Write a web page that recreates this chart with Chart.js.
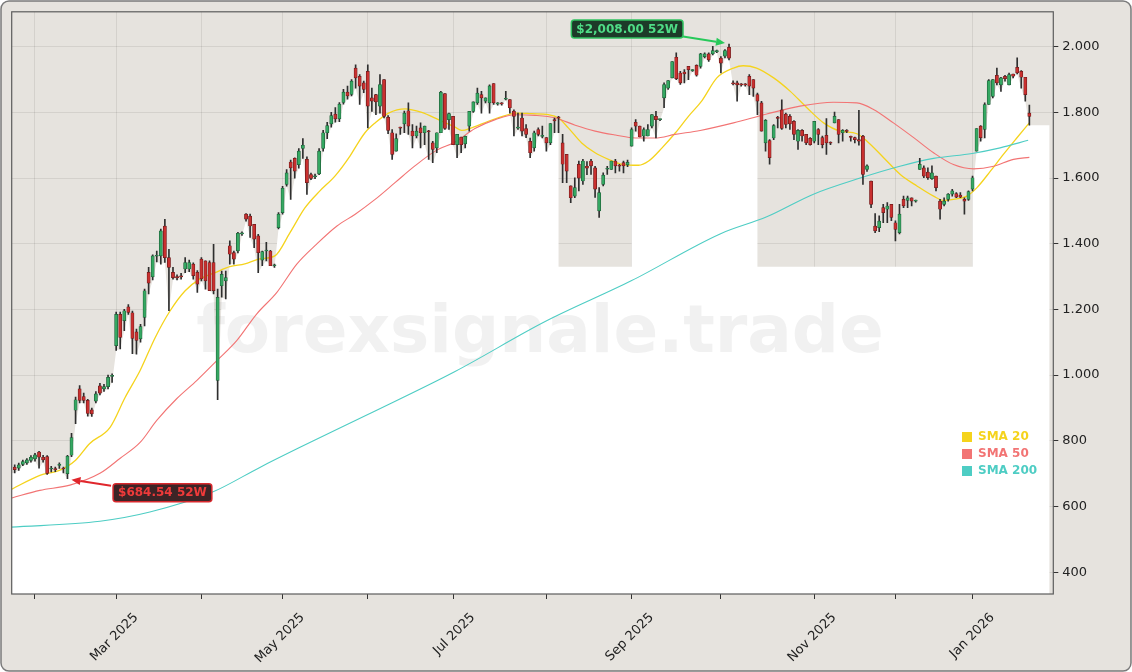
<!DOCTYPE html>
<html>
<head>
<meta charset="utf-8">
<script src="https://cdn.jsdelivr.net/npm/chart.js@4.4.1/dist/chart.umd.min.js"></script>
<style>
  html, body { margin: 0; padding: 0; background: #ffffff; }
  #chart { display: block; }
</style>
</head>
<body>
<canvas id="chart" width="1132" height="672"></canvas>
<script>
// daily candles, one per trading day (index 0 = 27 Jan 2025, 250 = 22 Jan 2026)
const opens = [
  720, 717, 728, 733, 740, 745, 766, 750, 752, 714,
  713, 725, 716, 700, 756, 893, 958, 935, 923, 894,
  921, 967, 958, 965, 996, 1090, 1185, 1166, 1208, 1190,
  1132, 1110, 1176, 1313, 1299, 1362, 1363, 1454, 1358, 1313,
  1298, 1300, 1323, 1323, 1338, 1313, 1353, 1348, 1343, 1343,
  984, 1272, 1287, 1394, 1373, 1378, 1430, 1490, 1484, 1459,
  1424, 1350, 1378, 1378, 1333, 1449, 1495, 1581, 1649, 1660,
  1641, 1690, 1657, 1611, 1604, 1613, 1690, 1738, 1765, 1795,
  1780, 1830, 1862, 1855, 1935, 1910, 1890, 1925, 1844, 1854,
  1819, 1900, 1785, 1738, 1682, 1755, 1765, 1805, 1743, 1728,
  1753, 1738, 1743, 1707, 1692, 1738, 1857, 1778, 1788, 1702,
  1725, 1704, 1758, 1803, 1829, 1854, 1834, 1829, 1888, 1826,
  1827, 1840, 1839, 1804, 1752, 1783, 1751, 1712, 1692, 1748,
  1727, 1723, 1707, 1778, 1786, 1707, 1672, 1576, 1545, 1642,
  1591, 1636, 1652, 1631, 1500, 1581, 1627, 1626, 1652, 1637,
  1647, 1640, 1697, 1770, 1758, 1728, 1728, 1758, 1788, 1778,
  1844, 1874, 1905, 1968, 1920, 1923, 1940, 1927, 1943, 1940,
  1970, 1978, 1978, 1985, 1965, 1971, 1998, 1890, 1890, 1885,
  1885, 1910, 1900, 1854, 1829, 1707, 1714, 1722, 1783, 1808,
  1795, 1788, 1773, 1712, 1745, 1733, 1721, 1712, 1748, 1723,
  1730, 1707, 1768, 1778, 1738, 1743, 1725, 1723, 1717, 1728,
  1626, 1591, 1454, 1449, 1510, 1505, 1520, 1464, 1434, 1535,
  1532, 1540, 1530, 1626, 1631, 1618, 1598, 1606, 1530, 1520,
  1535, 1551, 1553, 1548, 1535, 1535, 1566, 1682, 1758, 1748,
  1824, 1849, 1913, 1884, 1910, 1884, 1917, 1937, 1925, 1907,
  1798
];
const highs = [
  727, 732, 741, 746, 755, 762, 768, 756, 755, 722,
  720, 733, 720, 756, 823, 933, 968, 945, 926, 900,
  950, 975, 972, 1000, 1004, 1192, 1192, 1200, 1215, 1195,
  1140, 1155, 1262, 1328, 1366, 1378, 1445, 1474, 1383, 1328,
  1305, 1310, 1358, 1350, 1342, 1318, 1358, 1348, 1348, 1398,
  1262, 1317, 1317, 1409, 1378, 1435, 1436, 1492, 1490, 1459,
  1429, 1378, 1404, 1380, 1338, 1495, 1575, 1626, 1655, 1662,
  1690, 1720, 1665, 1615, 1612, 1690, 1745, 1770, 1800, 1815,
  1830, 1870, 1880, 1900, 1945, 1915, 1895, 1945, 1874, 1855,
  1915, 1900, 1790, 1748, 1735, 1755, 1804, 1829, 1763, 1758,
  1768, 1758, 1745, 1712, 1738, 1864, 1857, 1798, 1788, 1733,
  1725, 1728, 1803, 1832, 1874, 1864, 1844, 1884, 1888, 1830,
  1830, 1864, 1839, 1808, 1798, 1798, 1763, 1722, 1743, 1753,
  1758, 1723, 1766, 1783, 1788, 1733, 1672, 1576, 1601, 1652,
  1657, 1650, 1657, 1636, 1571, 1616, 1636, 1652, 1657, 1642,
  1652, 1655, 1753, 1778, 1758, 1753, 1763, 1793, 1803, 1780,
  1890, 1897, 1955, 1981, 1925, 1930, 1940, 1930, 1945, 1980,
  1981, 1981, 2001, 1990, 1970, 1991, 2008, 1896, 1895, 1888,
  1888, 1915, 1900, 1859, 1834, 1778, 1717, 1763, 1788, 1838,
  1798, 1793, 1775, 1748, 1748, 1733, 1723, 1773, 1751, 1728,
  1781, 1710, 1801, 1778, 1748, 1748, 1728, 1725, 1806, 1730,
  1640, 1591, 1492, 1485, 1520, 1525, 1520, 1470, 1520, 1545,
  1545, 1540, 1533, 1660, 1637, 1631, 1637, 1606, 1535, 1540,
  1553, 1566, 1556, 1556, 1540, 1561, 1606, 1751, 1760, 1829,
  1900, 1900, 1935, 1907, 1913, 1920, 1917, 1966, 1927, 1907,
  1822
];
const lows = [
  702, 710, 724, 728, 735, 738, 717, 735, 698, 705,
  706, 716, 702, 684.54, 752, 852, 915, 915, 875, 874,
  915, 940, 950, 958, 978, 1075, 1080, 1135, 1185, 1065,
  1064, 1100, 1150, 1247, 1290, 1345, 1338, 1343, 1196, 1292,
  1290, 1292, 1312, 1315, 1292, 1252, 1287, 1262, 1257, 1247,
  925, 1237, 1232, 1338, 1338, 1372, 1425, 1469, 1419, 1388,
  1312, 1333, 1348, 1333, 1328, 1445, 1490, 1575, 1535, 1600,
  1630, 1660, 1550, 1595, 1598, 1610, 1682, 1720, 1755, 1770,
  1772, 1825, 1840, 1850, 1874, 1824, 1860, 1753, 1803, 1793,
  1798, 1783, 1735, 1657, 1682, 1733, 1738, 1733, 1692, 1722,
  1692, 1702, 1657, 1647, 1677, 1738, 1748, 1748, 1702, 1662,
  1677, 1692, 1743, 1800, 1824, 1798, 1829, 1798, 1824, 1822,
  1822, 1838, 1798, 1728, 1748, 1728, 1723, 1662, 1682, 1728,
  1722, 1682, 1702, 1738, 1738, 1586, 1586, 1525, 1540, 1561,
  1581, 1610, 1611, 1541, 1480, 1576, 1611, 1626, 1616, 1621,
  1616, 1635, 1697, 1743, 1725, 1712, 1728, 1753, 1722, 1775,
  1814, 1870, 1905, 1900, 1885, 1890, 1900, 1925, 1910, 1935,
  1966, 1955, 1975, 1982, 1920, 1966, 1960, 1884, 1834, 1880,
  1880, 1854, 1849, 1793, 1743, 1682, 1642, 1717, 1753, 1748,
  1753, 1748, 1717, 1687, 1712, 1702, 1700, 1707, 1702, 1692,
  1672, 1702, 1768, 1707, 1712, 1738, 1712, 1707, 1700, 1581,
  1620, 1510, 1434, 1437, 1464, 1464, 1470, 1409, 1430, 1510,
  1510, 1515, 1527, 1626, 1601, 1596, 1596, 1561, 1475, 1515,
  1530, 1545, 1540, 1540, 1490, 1532, 1561, 1682, 1712, 1722,
  1824, 1844, 1884, 1864, 1895, 1884, 1905, 1917, 1874, 1834,
  1761
];
const closes = [
  712, 727, 737, 742, 750, 757, 750, 742, 701, 716,
  712, 726, 714, 753, 810, 925, 923, 923, 883, 882,
  943, 945, 965, 993, 998, 1185, 1115, 1196, 1191, 1112,
  1106, 1148, 1257, 1280, 1363, 1365, 1439, 1358, 1328, 1297,
  1297, 1299, 1343, 1343, 1303, 1277, 1293, 1287, 1257, 1257,
  1237, 1307, 1297, 1368, 1353, 1432, 1432, 1475, 1454, 1414,
  1373, 1376, 1380, 1333, 1334, 1490, 1569, 1616, 1631, 1621,
  1682, 1700, 1586, 1599, 1606, 1682, 1738, 1760, 1790, 1780,
  1825, 1862, 1850, 1895, 1905, 1880, 1870, 1819, 1834, 1832,
  1885, 1788, 1745, 1672, 1720, 1752, 1798, 1758, 1728, 1743,
  1738, 1758, 1741, 1687, 1738, 1862, 1751, 1796, 1702, 1733,
  1702, 1727, 1803, 1832, 1859, 1844, 1844, 1881, 1829, 1827,
  1826, 1842, 1814, 1788, 1753, 1743, 1733, 1677, 1738, 1733,
  1728, 1707, 1766, 1774, 1783, 1642, 1621, 1540, 1571, 1600,
  1652, 1630, 1637, 1566, 1556, 1609, 1629, 1652, 1637, 1636,
  1637, 1648, 1748, 1758, 1725, 1748, 1748, 1793, 1778, 1778,
  1885, 1897, 1955, 1903, 1890, 1917, 1930, 1927, 1913, 1978,
  1978, 1960, 1988, 1986, 1950, 1988, 1965, 1887, 1884, 1884,
  1884, 1880, 1874, 1834, 1743, 1776, 1662, 1760, 1782, 1751,
  1763, 1765, 1733, 1745, 1728, 1707, 1702, 1773, 1733, 1702,
  1707, 1706, 1788, 1733, 1745, 1742, 1724, 1717, 1712, 1611,
  1637, 1520, 1439, 1469, 1495, 1515, 1480, 1444, 1490, 1515,
  1540, 1530, 1531, 1642, 1606, 1601, 1616, 1571, 1505, 1530,
  1551, 1561, 1542, 1542, 1530, 1559, 1601, 1751, 1723, 1824,
  1897, 1900, 1890, 1905, 1903, 1915, 1910, 1920, 1907, 1854,
  1788
];

// moving averages: [trading-day index, value]
const sma20 = [
  [-0.7, 653], [6.2, 695], [11, 710], [15, 741], [18.5, 792], [23.5, 841], [27.2, 932],
  [30.9, 1014], [34.6, 1114], [38.3, 1196], [42, 1257], [45.7, 1293], [49.4, 1312],
  [53, 1330], [56.7, 1339], [60.4, 1354], [64.1, 1363], [67.8, 1433], [71.5, 1509],
  [75.2, 1561], [78.9, 1606], [82.6, 1667], [84.5, 1705], [86.3, 1738], [88.8, 1768],
  [92.1, 1798], [96.2, 1811], [100.3, 1800], [104.4, 1778], [108.5, 1755], [110.1, 1745],
  [112.6, 1753], [116.7, 1773], [120.8, 1790], [123.3, 1798], [127.4, 1796], [131.5, 1793],
  [134, 1783], [136.4, 1753], [139.7, 1707], [143, 1677], [146.3, 1657], [149.6, 1642],
  [153.7, 1639], [156.2, 1652], [159.5, 1692], [162.8, 1738], [166, 1788], [169.3, 1835],
  [173, 1905], [177.1, 1935], [179.5, 1942], [182.8, 1935], [187, 1905], [191.1, 1864],
  [195.2, 1814], [199.3, 1768], [203.4, 1743], [207.5, 1735], [210, 1712], [214.1, 1662],
  [218.2, 1611], [222.3, 1576], [226.4, 1545], [228.9, 1532], [231.3, 1535], [234.6, 1545],
  [237.1, 1571], [240.4, 1621], [243.6, 1672], [246.9, 1722], [250, 1768]
];
const sma50 = [
  [-0.7, 626], [6.2, 649], [13.6, 665], [21, 701], [26, 747], [30.9, 795], [35, 862],
  [39.9, 928], [44.9, 984], [49.8, 1044], [54.7, 1105], [59.6, 1186], [64.6, 1252],
  [69.5, 1338], [74.4, 1399], [79.4, 1454], [83.9, 1490], [88.8, 1535], [93.7, 1586],
  [98.6, 1637], [103.6, 1682], [108.5, 1710], [113.4, 1751], [118.4, 1778], [123.3, 1793],
  [128.2, 1791], [133.2, 1783], [138.1, 1761], [143, 1743], [148, 1731], [152.9, 1722],
  [157.8, 1722], [162.7, 1733], [168.9, 1745], [177.1, 1768], [185.3, 1795], [193.5, 1819],
  [201.7, 1831], [207.5, 1829], [211.6, 1809], [216.5, 1768], [221.5, 1723], [226.4, 1677],
  [231.3, 1641], [236.3, 1628], [241.2, 1636], [246.1, 1657], [250, 1663]
];
const sma200 = [
  [-0.9, 537], [21, 555], [33.3, 583], [48.6, 643], [60.4, 719], [70.3, 780], [87, 880],
  [108.5, 1011], [130.7, 1163], [151.9, 1287], [173.8, 1430], [185.3, 1482], [196.8, 1551],
  [208.3, 1600], [218.1, 1636], [226.4, 1660], [235.9, 1675], [242.8, 1692], [249.7, 1715]
];

// stretches where the white area under the lows is missing, and the level it drops to there
const pockets = [[135, 151], [184, 235]];
const pocketFloor = 1330;

const monthTicks = [5, 25, 46, 66, 87, 108, 131, 152, 174, 197, 217, 236];
const monthLabels = ['', 'Mar 2025', '', 'May 2025', '', 'Jul 2025', '', 'Sep 2025', '', 'Nov 2025', '', 'Jan 2026'];
const priceTicks = [400, 600, 800, 1000, 1200, 1400, 1600, 1800, 2000];

const extremeIdx = [176, 13];
const extremeVal = [2008.00, 684.54];
const extremeText = ['$2,008.00 52W', '$684.54 52W'];

const smaNames = ['SMA 20', 'SMA 50', 'SMA 200'];
const smaColors = ['#f5d31c', '#f27474', '#4ecdc4'];

const X_MIN = -0.74, X_MAX = 255.9;

const FONT = '"DejaVu Sans", Verdana, sans-serif';
Chart.defaults.font.family = FONT;

const days = opens.map((_, i) => i);
const isUp = days.map(i => closes[i] >= opens[i]);
const inPocket = i => pockets.some(p => i >= p[0] && i <= p[1]);

// outline of the white area: follows the lows, drops to the floor inside pockets
const floorData = [{ x: X_MIN, y: lows[0] }];
days.forEach(i => {
  if (inPocket(i)) {
    if (!inPocket(i - 1)) floorData.push({ x: i - 1, y: pocketFloor });
    return;
  }
  if (i > 0 && inPocket(i - 1)) floorData.push({ x: i, y: pocketFloor });
  floorData.push({ x: i, y: lows[i] });
});
floorData.push({ x: 255, y: lows[lows.length - 1] });

function roundRect(c, x, y, w, h, r) {
  c.beginPath();
  c.moveTo(x + r, y);
  c.arcTo(x + w, y, x + w, y + h, r);
  c.arcTo(x + w, y + h, x, y + h, r);
  c.arcTo(x, y + h, x, y, r);
  c.arcTo(x, y, x + w, y, r);
  c.closePath();
}

function arrow(c, x1, y1, x2, y2, color) {
  const a = Math.atan2(y2 - y1, x2 - x1);
  const head = 9, half = 4;
  const bx = x2 - head * Math.cos(a), by = y2 - head * Math.sin(a);
  c.strokeStyle = color;
  c.lineWidth = 2;
  c.beginPath(); c.moveTo(x1, y1); c.lineTo(bx, by); c.stroke();
  c.fillStyle = color;
  c.beginPath();
  c.moveTo(x2, y2);
  c.lineTo(bx + half * Math.sin(a), by - half * Math.cos(a));
  c.lineTo(bx - half * Math.sin(a), by + half * Math.cos(a));
  c.closePath(); c.fill();
}

function tag(c, text, x, cy, alignRight, fg, bg, edge) {
  c.font = 'bold 12px ' + FONT;
  const w = c.measureText(text).width + 10;
  const h = 18;
  const left = alignRight ? x - w : x;
  roundRect(c, left, cy - h / 2, w, h, 3);
  c.fillStyle = bg; c.fill();
  c.strokeStyle = edge; c.lineWidth = 1.5; c.stroke();
  c.fillStyle = fg;
  c.textAlign = 'left';
  c.textBaseline = 'middle';
  c.fillText(text, left + 5, cy + 0.5);
  return { left, right: left + w, top: cy - h / 2, bottom: cy + h / 2 };
}

const decor = {
  id: 'decor',
  beforeDraw(chart) {
    const c = chart.ctx;
    c.save();
    roundRect(c, 1, 1, 1130, 670, 8);
    c.fillStyle = '#e6e3de';
    c.fill();
    c.restore();
  },
  afterDatasetDraw(chart, args) {
    if (args.index !== 0) return;
    const c = chart.ctx;
    c.save();
    c.font = 'bold 66px ' + FONT;
    c.fillStyle = 'rgba(150,150,150,0.13)';
    c.textAlign = 'center';
    c.textBaseline = 'alphabetic';
    c.fillText('forexsignale.trade', 540, 352);
    c.restore();
  },
  afterDraw(chart) {
    const c = chart.ctx;
    const a = chart.chartArea;
    const xs = chart.scales.x, ys = chart.scales.y;
    c.save();
    c.strokeStyle = '#5c5c5c';
    c.lineWidth = 1.2;
    c.strokeRect(a.left, a.top, a.right - a.left, a.bottom - a.top);

    c.font = 'bold 12px ' + FONT;
    c.textAlign = 'left';
    c.textBaseline = 'middle';
    smaNames.forEach((name, k) => {
      const cy = 437 + k * 17;
      c.fillStyle = smaColors[k];
      c.fillRect(962, cy - 5, 10, 10);
      c.fillText(name, 978, cy);
    });

    let px = xs.getPixelForValue(extremeIdx[0]);
    let py = ys.getPixelForValue(extremeVal[0]);
    let tip = [px - 4, py - 1];
    let box = tag(c, extremeText[0], tip[0] - 42, tip[1] - 14, true, '#4fdc86', '#1d3b29', '#2fc25f');
    arrow(c, box.right, box.bottom - 1.5, tip[0], tip[1], '#27c95a');

    px = xs.getPixelForValue(extremeIdx[1]);
    py = ys.getPixelForValue(extremeVal[1]);
    tip = [px + 4, py + 1];
    box = tag(c, extremeText[1], tip[0] + 41.6, tip[1] + 13, false, '#ef3a3a', '#3c2426', '#d8282d');
    arrow(c, box.left - 2, box.top + 2, tip[0], tip[1], '#e0262c');

    roundRect(c, 1, 1, 1130, 670, 8);
    c.strokeStyle = '#7a7a7a';
    c.lineWidth = 1.5;
    c.stroke();
    c.restore();
  }
};

const gridColor = 'rgba(0,0,0,0.08)';
const tickFont = { family: FONT, size: 13 };

new Chart(document.getElementById('chart'), {
  type: 'bar',
  data: {
    datasets: [
      {
        type: 'line',
        label: 'floor',
        data: floorData,
        fill: 'start',
        backgroundColor: '#ffffff',
        borderWidth: 0,
        pointRadius: 0,
        tension: 0,
        order: 10
      },
      {
        type: 'line',
        label: smaNames[2],
        data: sma200.map(p => ({ x: p[0], y: p[1] })),
        borderColor: smaColors[2],
        borderWidth: 1.1,
        pointRadius: 0,
        fill: false,
        cubicInterpolationMode: 'monotone',
        order: 5
      },
      {
        type: 'line',
        label: smaNames[1],
        data: sma50.map(p => ({ x: p[0], y: p[1] })),
        borderColor: smaColors[1],
        borderWidth: 1.1,
        pointRadius: 0,
        fill: false,
        cubicInterpolationMode: 'monotone',
        order: 5
      },
      {
        type: 'line',
        label: smaNames[0],
        data: sma20.map(p => ({ x: p[0], y: p[1] })),
        borderColor: smaColors[0],
        borderWidth: 1.3,
        pointRadius: 0,
        fill: false,
        cubicInterpolationMode: 'monotone',
        order: 5
      },
      {
        label: 'wick',
        data: days.map(i => ({ x: i, y: [lows[i], highs[i]] })),
        backgroundColor: '#2e2e2e',
        barThickness: 1,
        grouped: false,
        order: 2
      },
      {
        label: 'body',
        data: days.map(i => ({ x: i, y: [opens[i], closes[i]] })),
        backgroundColor: isUp.map(u => u ? '#35a862' : '#c9302f'),
        borderColor: isUp.map(u => u ? '#1d5e37' : '#6e1b1c'),
        borderWidth: 0.7,
        borderSkipped: false,
        barThickness: 3.2,
        minBarLength: 1,
        grouped: false,
        order: 1
      }
    ]
  },
  options: {
    responsive: false,
    animation: false,
    devicePixelRatio: 1,
    layout: { padding: { left: 11.7, top: 10.3, right: 0, bottom: 0 } },
    plugins: {
      legend: { display: false },
      tooltip: { enabled: false }
    },
    scales: {
      x: {
        type: 'linear',
        min: X_MIN,
        max: X_MAX,
        offset: false,
        z: 1,
        afterBuildTicks: s => { s.ticks = monthTicks.map(v => ({ value: v })); },
        afterFit: s => { s.height = 78; },
        ticks: {
          autoSkip: false,
          minRotation: 45,
          maxRotation: 45,
          labelOffset: 20,
          padding: 11,
          color: '#222',
          font: tickFont,
          callback: v => monthLabels[monthTicks.indexOf(v)]
        },
        grid: { color: gridColor, tickColor: '#333', tickLength: 5, offset: false },
        border: { display: false }
      },
      y: {
        position: 'right',
        min: 333.5,
        max: 2106.3,
        z: 1,
        afterBuildTicks: s => { s.ticks = priceTicks.map(v => ({ value: v })); },
        afterFit: s => { s.width = 78.7; },
        ticks: {
          padding: 4,
          color: '#222',
          font: tickFont,
          callback: v => String(v).replace(/\B(?=(\d{3})+(?!\d))/g, '.')
        },
        grid: { color: gridColor, tickColor: '#333', tickLength: 5 },
        border: { display: false }
      }
    }
  },
  plugins: [decor]
});
</script>
</body>
</html>
